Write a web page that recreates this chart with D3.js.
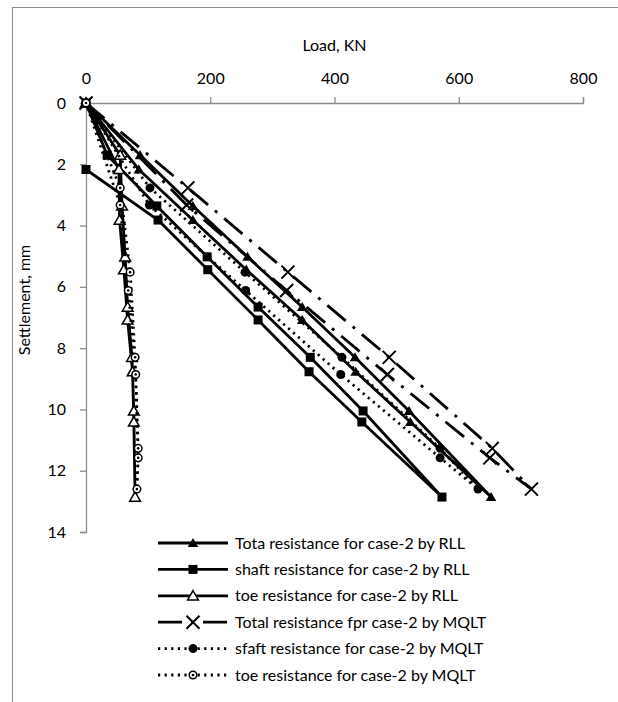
<!DOCTYPE html>
<html>
<head>
<meta charset="utf-8">
<script src="https://cdn.jsdelivr.net/npm/d3@7"></script>
<style>
  html, body { margin: 0; padding: 0; background: #fff; }
  svg { display: block; }
  text { font-family: Lato, "Open Sans", sans-serif; fill: #000; }
</style>
</head>
<body>
<svg id="chart" width="618" height="702"></svg>
<script>
// ---------------- DATA ----------------
const xTicks = [0, 200, 400, 600, 800];
const yTicks = [0, 2, 4, 6, 8, 10, 12, 14];

// RLL settlements (mm): first reading of each load step (up) and second reading (down)
const rllSettleUp   = [0, 1.70, 3.36, 5.02, 6.66, 8.30, 10.05, 12.86];
const rllSettleDown = [2.17, 3.82, 5.44, 7.08, 8.77, 10.41];

const totalRllUp   = [0, 87, 172, 260, 348, 433, 520, 652];
const totalRllDown = [85, 172, 258, 348, 434, 522];
const shaftRllUp   = [0, 34, 114, 195, 277, 361, 446, 573];
const shaftRllDown = [0, 116, 196, 277, 359, 444];
const toeRllUp     = [0, 55, 58, 63, 67, 74, 77, 79];
const toeRllDown   = [53, 54, 61, 67, 75, 77];

// MQLT settlements (mm)
const mqltSettleUp   = [0, 2.77, 5.52, 8.30, 11.27, 12.60];
const mqltSettleDown = [3.33, 6.12, 8.86, 11.58];

const totalMqltUp   = [0, 164, 325, 488, 654, 717];
const totalMqltDown = [162, 323, 485, 650];
const shaftMqltUp   = [0, 103, 256, 412, 570, 631];
const shaftMqltDown = [102, 257, 410, 570];
const toeMqltUp     = [0, 55, 71, 79, 84, 82];
const toeMqltDown   = [55, 68, 80, 84];

const seriesNames = [
  "Tota resistance for case-2 by RLL",
  "shaft resistance for case-2 by RLL",
  "toe resistance for case-2 by RLL",
  "Total resistance fpr case-2 by MQLT",
  "sfaft resistance for case-2 by MQLT",
  "toe resistance for case-2 by MQLT"
];

// ---------------- BUILD ----------------
function buildPath(sUp, lUp, sDown, lDown, closeToOrigin) {
  const pts = sUp.map((s, i) => ({ load: lUp[i], s }));
  for (let i = sDown.length - 1; i >= 0; i--) pts.push({ load: lDown[i], s: sDown[i] });
  const markers = pts.slice();
  if (closeToOrigin) pts.push({ load: 0, s: 0 });
  return { pts, markers };
}

const series = [
  { name: seriesNames[0], ...buildPath(rllSettleUp, totalRllUp, rllSettleDown, totalRllDown, true),  dash: null,          marker: "triFill" },
  { name: seriesNames[1], ...buildPath(rllSettleUp, shaftRllUp, rllSettleDown, shaftRllDown, false), dash: null,          marker: "square" },
  { name: seriesNames[2], ...buildPath(rllSettleUp, toeRllUp, rllSettleDown, toeRllDown, true),      dash: null,          marker: "triOpen" },
  { name: seriesNames[3], ...buildPath(mqltSettleUp, totalMqltUp, mqltSettleDown, totalMqltDown, true), dash: "24,9,3,9", marker: "cross" },
  { name: seriesNames[4], ...buildPath(mqltSettleUp, shaftMqltUp, mqltSettleDown, shaftMqltDown, true), dash: "2.2,4.4",  marker: "circle" },
  { name: seriesNames[5], ...buildPath(mqltSettleUp, toeMqltUp, mqltSettleDown, toeMqltDown, true),     dash: "2.2,4.4",  marker: "circleDot" }
];

// ---------------- DRAW ----------------
const svg = d3.select("#chart");
const plot = { left: 86, right: 583, top: 103, bottom: 532 };

// outer chart border
svg.append("rect").attr("x", 12.5).attr("y", 7.5).attr("width", 800).attr("height", 900)
  .attr("fill", "none").attr("stroke", "#8c8c8c").attr("stroke-width", 1);

const x = d3.scaleLinear().domain([0, 800]).range([plot.left, plot.right]);
const y = d3.scaleLinear().domain([0, 14]).range([plot.top, plot.bottom]);

const xAxis = svg.append("g").attr("transform", `translate(0,${plot.top})`)
  .call(d3.axisTop(x).tickValues(xTicks).tickSize(6).tickPadding(13));
const yAxis = svg.append("g").attr("transform", `translate(${plot.left},0)`)
  .call(d3.axisLeft(y).tickValues(yTicks).tickSize(6).tickPadding(14));
[xAxis, yAxis].forEach(g => {
  g.selectAll("path, line").attr("stroke", "#8c8c8c").attr("stroke-width", 1.3);
  g.selectAll("text").style("font-size", "16px").style("font-family", "Lato, sans-serif").attr("fill", "#000");
});

svg.append("text").attr("x", (plot.left + plot.right) / 2).attr("y", 51)
  .attr("text-anchor", "middle").style("font-size", "16px").text("Load, KN");
svg.append("text").attr("transform", `translate(30,300) rotate(-90)`)
  .attr("text-anchor", "middle").style("font-size", "16px").text("Settlement, mm");

const line = d3.line().x(d => x(d.load)).y(d => y(d.s));

function drawMarker(g, type, cx, cy) {
  const sym = (t, size) => d3.symbol().type(t).size(size)();
  if (type === "triFill") {
    g.append("path").attr("transform", `translate(${cx},${cy + 1})`).attr("d", sym(d3.symbolTriangle, 48)).attr("fill", "#000");
  } else if (type === "triOpen") {
    g.append("path").attr("transform", `translate(${cx},${cy + 1})`).attr("d", sym(d3.symbolTriangle, 50))
      .attr("fill", "#fff").attr("stroke", "#000").attr("stroke-width", 1.5);
  } else if (type === "square") {
    g.append("rect").attr("x", cx - 4.5).attr("y", cy - 4.5).attr("width", 9).attr("height", 9).attr("fill", "#000");
  } else if (type === "cross") {
    const h = 6.5;
    g.append("path").attr("d", `M${cx - h},${cy - h}L${cx + h},${cy + h}M${cx - h},${cy + h}L${cx + h},${cy - h}`)
      .attr("stroke", "#000").attr("stroke-width", 2).attr("fill", "none");
  } else if (type === "circle") {
    g.append("circle").attr("cx", cx).attr("cy", cy).attr("r", 4.5).attr("fill", "#000");
  } else if (type === "circleDot") {
    g.append("circle").attr("cx", cx).attr("cy", cy).attr("r", 3.8).attr("fill", "#fff")
      .attr("stroke", "#000").attr("stroke-width", 1.5);
    g.append("circle").attr("cx", cx).attr("cy", cy).attr("r", 1.3).attr("fill", "#000");
  }
}

series.forEach(sr => {
  const g = svg.append("g");
  g.append("path").datum(sr.pts).attr("d", line)
    .attr("fill", "none").attr("stroke", "#000").attr("stroke-width", 2.8)
    .attr("stroke-dasharray", sr.dash).attr("stroke-linejoin", "round");
  sr.markers.forEach(p => drawMarker(g, sr.marker, x(p.load), y(p.s)));
});

// ---------------- LEGEND ----------------
const legend = svg.append("g");
const legX0 = 158, legX1 = 228, legY0 = 543, legDy = 26.4;
series.forEach((sr, i) => {
  const ly = legY0 + i * legDy;
  legend.append("line").attr("x1", legX0).attr("x2", legX1).attr("y1", ly).attr("y2", ly)
    .attr("stroke", "#000").attr("stroke-width", 2.8).attr("stroke-dasharray", sr.dash);
  drawMarker(legend, sr.marker, (legX0 + legX1) / 2, ly);
  legend.append("text").attr("x", 235).attr("y", ly).attr("dy", "0.35em")
    .style("font-size", "16px").text(sr.name);
});
</script>
</body>
</html>
